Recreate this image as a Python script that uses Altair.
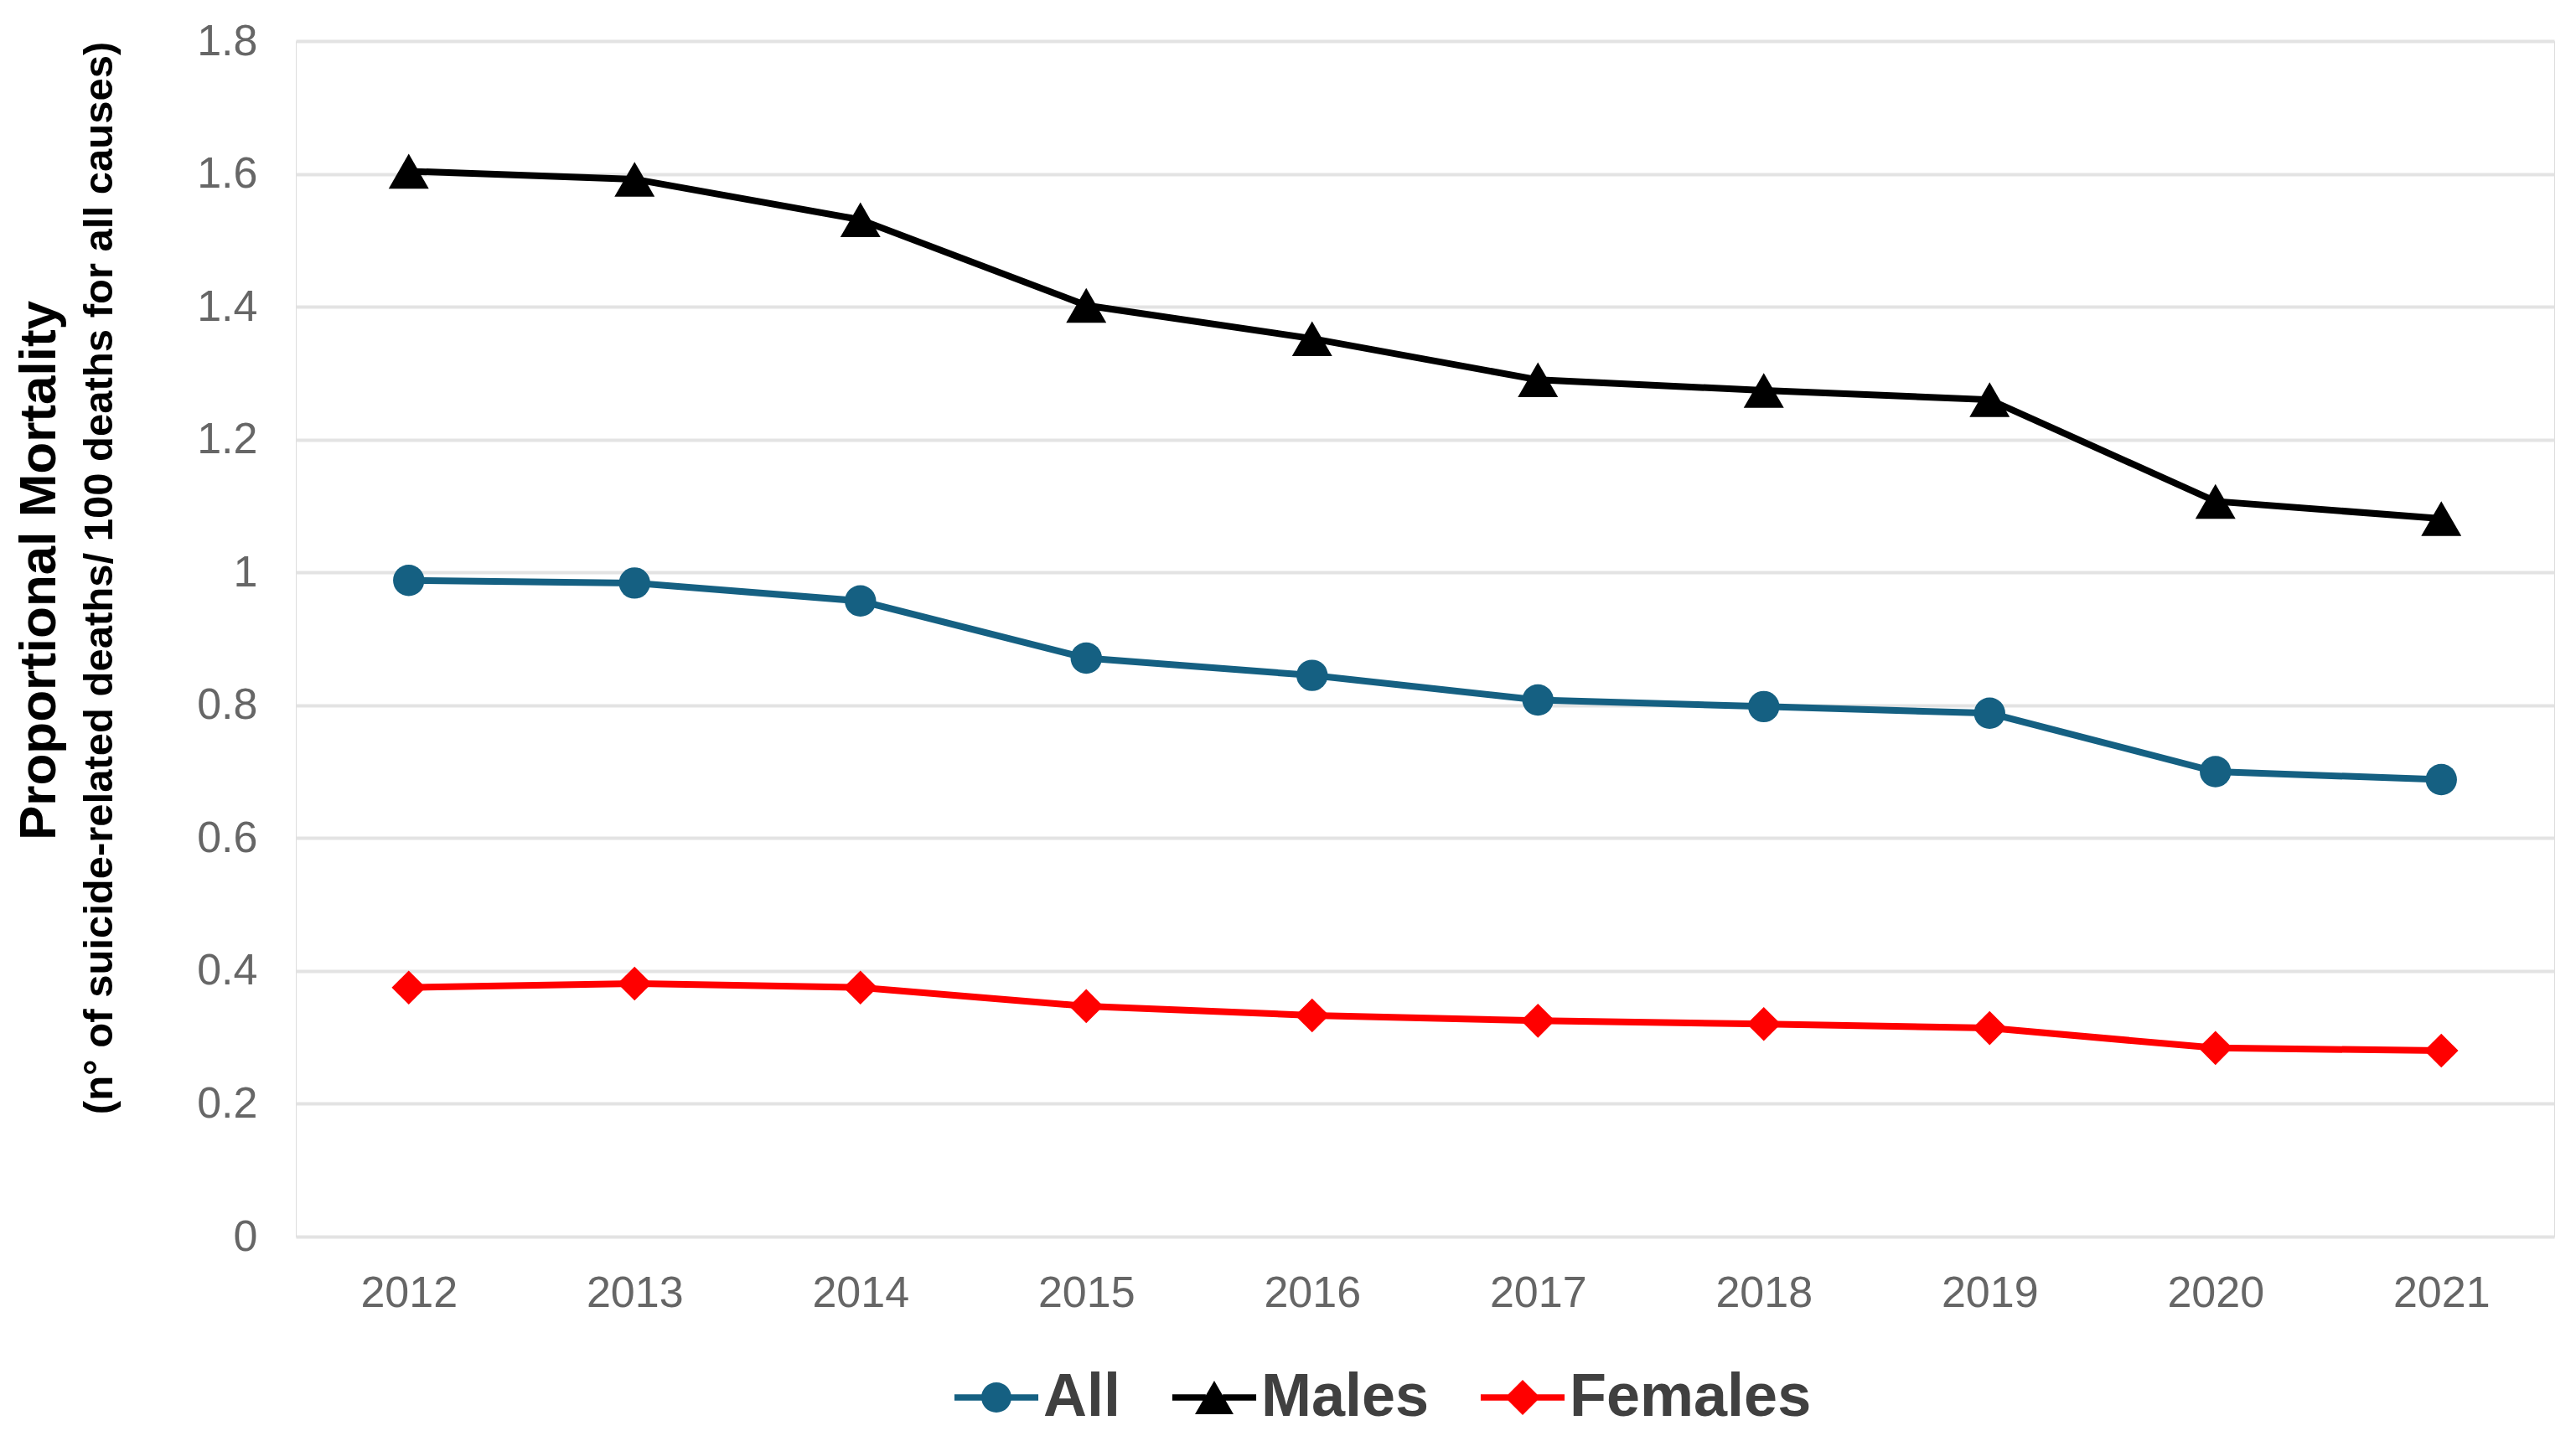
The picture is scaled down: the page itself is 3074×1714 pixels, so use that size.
import altair as alt
import pandas as pd

years = ["2012", "2013", "2014", "2015", "2016", "2017", "2018", "2019", "2020", "2021"]
all_vals = [0.988, 0.984, 0.957, 0.871, 0.845, 0.808, 0.798, 0.788, 0.700, 0.688]
male_vals = [1.604, 1.592, 1.531, 1.402, 1.352, 1.290, 1.274, 1.260, 1.107, 1.081]
female_vals = [0.375, 0.381, 0.375, 0.347, 0.333, 0.325, 0.320, 0.314, 0.284, 0.280]
series_names = ["All", "Males", "Females"]
series_colors = ["#156082", "#000000", "#FF0000"]
y_ticks = [0, 0.2, 0.4, 0.6, 0.8, 1.0, 1.2, 1.4, 1.6, 1.8]
title_line1 = "Proportional Mortality"
title_line2 = "(n° of suicide-related deaths/ 100 deaths for all causes)"

rows = []
for name, vals in zip(series_names, [all_vals, male_vals, female_vals]):
    for yr, v in zip(years, vals):
        rows.append({"year": yr, "series": name, "value": v})
df = pd.DataFrame(rows)

FONT = "Liberation Sans"
W, H = 2695, 1427

x_enc = alt.X("year:O", title=None,
              axis=alt.Axis(labelAngle=0, labelFontSize=52, labelColor="#666666",
                            labelFont=FONT, ticks=False, domain=False, grid=False,
                            labelPadding=42))
y_enc = alt.Y("value:Q", title=None,
              scale=alt.Scale(domain=[0, 1.8], nice=False),
              axis=alt.Axis(values=y_ticks, format="~g", labelFontSize=52,
                            labelColor="#666666", labelFont=FONT, ticks=False,
                            domain=False, grid=True, gridColor="#e3e3e3",
                            gridWidth=4, labelPadding=46))

base = alt.Chart(df)

shape_map = {"All": ("circle", 1400), "Males": ("triangle-up", 2300), "Females": ("diamond", 1650)}
color_map = dict(zip(series_names, series_colors))

layers = []
for name in series_names:
    layers.append(
        base.transform_filter(alt.datum.series == name)
        .mark_line(strokeWidth=8, color=color_map[name])
        .encode(x=x_enc, y=y_enc)
    )
for name in series_names:
    shp, sz = shape_map[name]
    layers.append(
        base.transform_filter(alt.datum.series == name)
        .mark_point(filled=True, shape=shp, size=sz, opacity=1, color=color_map[name])
        .encode(x=x_enc, y=y_enc)
    )

# legend symbols: short line with marker (unit coords: 1 unit = 35 px here)
leg_circle = ("M-1.43,-0.107H-0.36V0.107H-1.43Z M0.36,-0.107H1.43V0.107H0.36Z "
              "M-0.514,0A0.514,0.514 0 1,1 0.514,0A0.514,0.514 0 1,1 -0.514,0Z")
leg_tri = ("M-1.43,-0.107H-0.29V0.107H-1.43Z M0.29,-0.107H1.43V0.107H0.29Z "
           "M0,-0.571L0.657,0.571L-0.657,0.571Z")
leg_dia = ("M-1.43,-0.107H-0.43V0.107H-1.43Z M0.43,-0.107H1.43V0.107H0.43Z "
           "M0,-0.6L0.6,0L0,0.6L-0.6,0Z")

legend_def = alt.Legend(title=None, orient="none", legendX=800, legendY=1583,
                        direction="horizontal", labelFontSize=72,
                        labelFont=FONT, labelFontWeight="bold",
                        labelColor="#404040", symbolSize=4900, labelLimit=0,
                        symbolStrokeWidth=0, columnPadding=60, labelOffset=20)

legend_layer = base.transform_filter("datum.value < -10").mark_point(
    filled=True, opacity=1).encode(
    x=x_enc, y=y_enc,
    color=alt.Color("series:N",
                    scale=alt.Scale(domain=series_names, range=series_colors),
                    legend=legend_def),
    shape=alt.Shape("series:N",
                    scale=alt.Scale(domain=series_names,
                                    range=[leg_circle, leg_tri, leg_dia]),
                    legend=legend_def),
)
layers.append(legend_layer)

t1 = alt.Chart(pd.DataFrame({"t": [title_line1]})).mark_text(
    angle=270, font=FONT, fontWeight="bold", fontSize=62, color="#000000",
    align="center", baseline="middle").encode(
    text="t:N", x=alt.value(-306), y=alt.value(632))

t2 = alt.Chart(pd.DataFrame({"t": [title_line2]})).mark_text(
    angle=270, font=FONT, fontWeight="bold", fontSize=49, color="#000000",
    align="center", baseline="middle").encode(
    text="t:N", x=alt.value(-234), y=alt.value(641))
layers += [t1, t2]

chart = alt.layer(*layers).properties(
    width=W, height=H,
    autosize=alt.AutoSizeParams(type="none"),
    padding={"left": 345, "top": 41, "right": 10, "bottom": 230},
).configure_view(stroke=None).configure(background="white")

chart.save("out.html", embed_options={"renderer": "svg", "actions": False})
